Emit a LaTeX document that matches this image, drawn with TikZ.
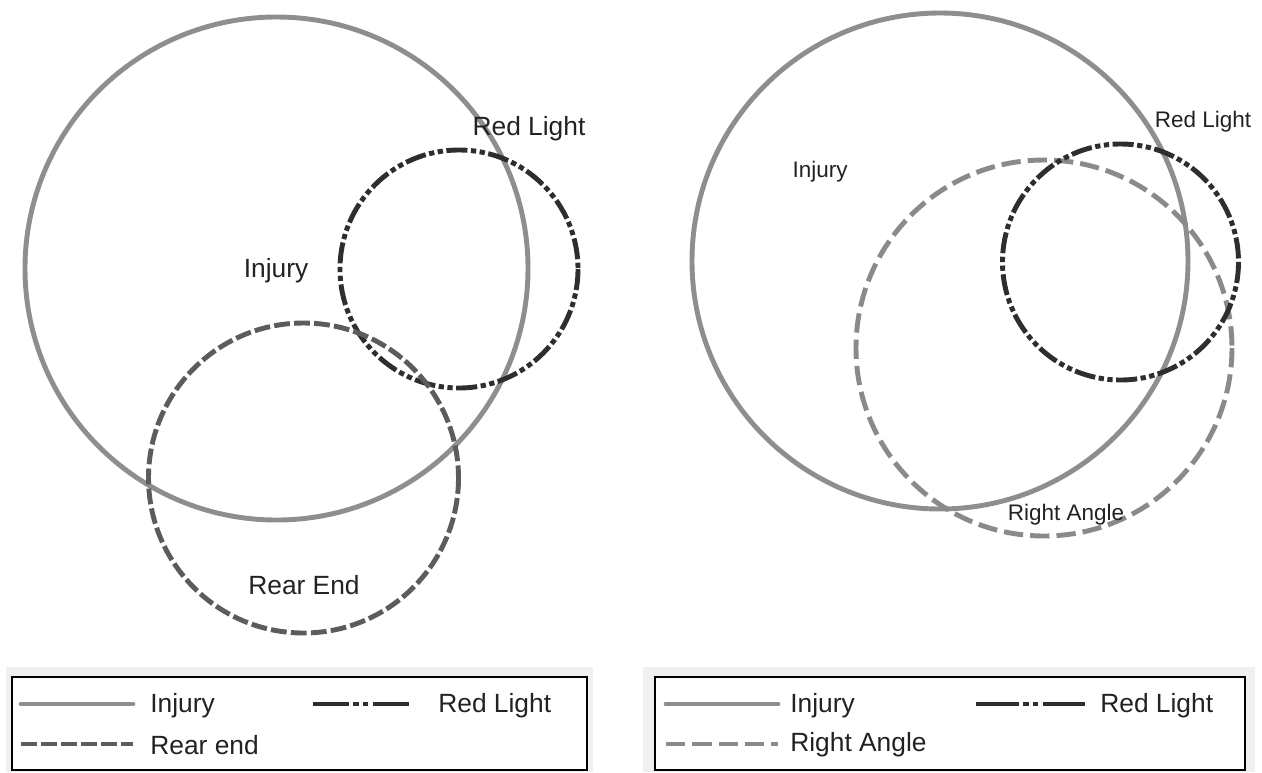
\documentclass[tikz,border=0pt]{standalone}
\usepackage{fontspec}
\setmainfont{Liberation Sans}
\usepackage{xcolor}
\usepackage{tikz}
\usetikzlibrary{positioning}

\definecolor{injgray}{HTML}{8E8E8E}
\definecolor{redldark}{HTML}{2E2E2E}
\definecolor{reargray}{HTML}{5C5C5C}
\definecolor{anglegray}{HTML}{8A8A8A}
\definecolor{legbg}{HTML}{F0F0F0}
\definecolor{txtdark}{HTML}{222222}

\begin{document}
\begin{tikzpicture}[x=0.02cm,y=-0.02cm,
  injury/.style={line width=2.8pt,injgray},
  redlight/.style={line width=2.8pt,redldark,dash pattern=on 12pt off 2pt on 3pt off 2pt on 3pt off 2pt},
  redleg/.style={redlight,dash pattern=on #1 off 2.5pt on 3pt off 2.5pt on 3pt off 2.5pt},
  rearend/.style={line width=2.8pt,reargray,dash pattern=on 9pt off 2.4pt},
  rightangle/.style={line width=2.8pt,anglegray,dash pattern=on 11pt off 4pt},
  lab/.style={font=\fontsize{15}{17}\selectfont,text=txtdark,inner sep=0pt},
  labs/.style={font=\fontsize{12.8}{15}\selectfont,text=txtdark,inner sep=0pt},
  leg/.style={font=\fontsize{15}{17}\selectfont,text=txtdark,anchor=west,inner sep=0pt}]
  \useasboundingbox (0,0) rectangle (1262,772);
  % left panel
  \coordinate (injL) at (276.5,268.5);
  \coordinate (redL) at (459,269);
  \coordinate (rearL) at (303.5,478);
  \draw[injury] (injL) circle[radius=251.5];
  \draw[redlight] (redL) circle[radius=119];
  \draw[rearend] (rearL) circle[radius=155];
  \node[lab] (tinjL) at (276,271) {Injury};
  \node[lab] (tredL) at (529,129) {Red Light};
  \node[lab] (trear) at (304,585) {Rear End};
  % right panel
  \coordinate (injR) at (940,261);
  \coordinate (redR) at (1120.5,262);
  \coordinate (angR) at (1044,348);
  \draw[injury] (injR) circle[radius=248];
  \draw[rightangle] (angR) circle[radius=188];
  \draw[redlight] (redR) circle[radius=118];
  \node[labs] (tinjR) at (820,172) {Injury};
  \node[labs] (tredR) at (1203,122) {Red Light};
  \node[labs] (tang) at (1066,515) {Right Angle};
  % legends
  \fill[legbg] (6,667) rectangle (593,772);
  \draw[line width=1.1pt,fill=white] (12,677) rectangle (587,770);
  \draw[injury,line cap=round] (21,704) -- (133,704);
  \draw[rearend,line width=2.6pt] (21,744) -- (133,744);
  \draw[redleg=20.5pt] (313,704) -- (410,704);
  \node[leg] (lginjL) at (150,706) {Injury};
  \node[leg] (lgredL) at (438,706) {Red Light};
  \node[leg] (lgrear) at (150,745) {Rear end};
  \fill[legbg] (643,667) rectangle (1255,772);
  \draw[line width=1.1pt,fill=white] (655,677) rectangle (1245,770);
  \draw[injury,line cap=round] (666,704) -- (778,704);
  \draw[rightangle,line width=2.6pt] (666,744) -- (778,744);
  \draw[redleg=24.4pt] (976,704) -- (1086,704);
  \node[leg] (lginjR) at (790,706) {Injury};
  \node[leg] (lgredR) at (1100,706) {Red Light};
  \node[leg] (lgang) at (790,745) {Right Angle};
\end{tikzpicture}
\end{document}
